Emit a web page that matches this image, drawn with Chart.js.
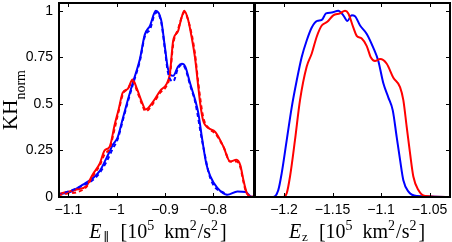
<!DOCTYPE html>
<html>
<head>
<meta charset="utf-8">
<script src="https://cdn.jsdelivr.net/npm/chart.js@4.4.1/dist/chart.umd.min.js"></script>
<style>
  body { margin: 0; background: #fff; }
  #wrap { position: relative; width: 452px; height: 242px; overflow: hidden; }
  canvas { position: absolute; top: 0; }
  #left { left: 0; }
  #right { left: 240px; }
</style>
</head>
<body>
<div id="wrap">
  <canvas id="left" width="256" height="242"></canvas>
  <canvas id="right" width="212" height="242"></canvas>
</div>
<script>
// --- DATA ---
// left panel: E_parallel
const leftRedX = [-1.121, -1.106, -1.083, -1.0625, -1.05, -1.035, -1.025, -1.0146, -1.004, -0.996, -0.9875, -0.977, -0.967, -0.958, -0.948, -0.94, -0.925, -0.91, -0.896, -0.89, -0.883, -0.873, -0.866, -0.86, -0.852, -0.845, -0.838, -0.831, -0.827, -0.821, -0.81, -0.796, -0.779, -0.765, -0.752, -0.744, -0.7375, -0.731, -0.725, -0.7146];
const leftRedY = [0.015, 0.025, 0.04, 0.06, 0.12, 0.18, 0.25, 0.27, 0.39, 0.47, 0.56, 0.58, 0.63, 0.58, 0.51, 0.47, 0.51, 0.57, 0.61, 0.66, 0.84, 0.89, 0.96, 1.0, 0.95, 0.86, 0.75, 0.59, 0.5, 0.41, 0.37, 0.35, 0.27, 0.19, 0.2, 0.17, 0.09, 0.025, 0.003, 0];
const leftRedDashX = [-1.121, -1.098, -1.083, -1.0625, -1.05, -1.035, -1.025, -1.0146, -1.004, -0.996, -0.9875, -0.977, -0.967, -0.958, -0.948, -0.94, -0.925, -0.91, -0.896, -0.89, -0.883, -0.873, -0.86, -0.848, -0.838, -0.831, -0.821, -0.81, -0.796, -0.779, -0.765, -0.752, -0.744, -0.7375, -0.731, -0.7146];
const leftRedDashY = [0.01, 0.02, 0.025, 0.055, 0.11, 0.17, 0.23, 0.26, 0.37, 0.46, 0.55, 0.58, 0.62, 0.57, 0.5, 0.46, 0.5, 0.56, 0.6, 0.65, 0.82, 0.9, 0.99, 0.91, 0.77, 0.61, 0.43, 0.37, 0.34, 0.27, 0.19, 0.19, 0.16, 0.08, 0.02, 0];
const leftBlueX = [-1.121, -1.098, -1.071, -1.05, -1.035, -1.021, -1.008, -0.998, -0.9875, -0.977, -0.967, -0.952, -0.942, -0.931, -0.919, -0.908, -0.9, -0.894, -0.883, -0.873, -0.865, -0.858, -0.848, -0.8375, -0.831, -0.823, -0.8146, -0.806, -0.792, -0.771, -0.75, -0.733, -0.723, -0.7146];
const leftBlueY = [0.015, 0.025, 0.065, 0.1, 0.14, 0.21, 0.28, 0.32, 0.42, 0.52, 0.61, 0.74, 0.87, 0.92, 1.0, 0.95, 0.8, 0.69, 0.65, 0.7, 0.715, 0.7, 0.61, 0.52, 0.45, 0.31, 0.18, 0.11, 0.05, 0.012, 0.03, 0.027, 0.003, 0];
const leftBlueDashX = [-1.121, -1.071, -1.05, -1.035, -1.021, -1.008, -0.998, -0.9875, -0.977, -0.967, -0.952, -0.942, -0.931, -0.919, -0.908, -0.9, -0.894, -0.883, -0.873, -0.865, -0.858, -0.848, -0.8375, -0.823, -0.806, -0.771];
const leftBlueDashY = [0.01, 0.06, 0.09, 0.13, 0.19, 0.26, 0.31, 0.41, 0.51, 0.6, 0.73, 0.86, 0.9, 0.99, 0.94, 0.79, 0.67, 0.62, 0.69, 0.71, 0.69, 0.6, 0.51, 0.3, 0.1, 0.01];

// right panel: E_z
const rightBlueX = [-1.2299, -1.211, -1.2059, -1.2024, -1.1972, -1.1921, -1.1869, -1.1818, -1.1766, -1.1714, -1.1657, -1.1611, -1.1567, -1.1508, -1.144, -1.1389, -1.1347, -1.1302, -1.1268, -1.1216, -1.1147, -1.1079, -1.1028, -1.0976, -1.0925, -1.0879, -1.0838, -1.0804, -1.077, -1.0719, -1.0632, -1.0289];
const rightBlueY = [0, 0, 0.037, 0.127, 0.305, 0.48, 0.625, 0.75, 0.84, 0.91, 0.945, 0.95, 0.985, 0.99, 1.0, 0.975, 0.945, 0.975, 0.97, 0.92, 0.875, 0.8, 0.73, 0.61, 0.535, 0.465, 0.32, 0.2, 0.09, 0.03, 0.005, 0];
const rightRedX = [-1.2299, -1.2007, -1.1972, -1.1938, -1.1887, -1.1835, -1.1766, -1.1714, -1.1663, -1.1611, -1.1554, -1.1492, -1.1423, -1.1371, -1.1337, -1.1286, -1.1251, -1.1199, -1.1147, -1.1106, -1.1062, -1.101, -1.0941, -1.0873, -1.0804, -1.077, -1.0735, -1.0701, -1.0667, -1.0615, -1.0546, -1.0289];
const rightRedY = [0, 0, 0.02, 0.11, 0.305, 0.52, 0.7, 0.77, 0.86, 0.92, 0.94, 0.975, 0.985, 1.0, 0.985, 0.91, 0.865, 0.85, 0.81, 0.75, 0.73, 0.74, 0.715, 0.64, 0.59, 0.52, 0.375, 0.235, 0.11, 0.037, 0.005, 0];

// ticks
const yTicks = [0, 0.25, 0.5, 0.75, 1];
const yLabels = ['0', '0.25', '0.5', '0.75', '1'];
const leftXTicks = [-1.1, -1, -0.9, -0.8];
const leftXLabels = ['\u22121.1', '\u22121', '\u22120.9', '\u22120.8'];
const rightXTicks = [-1.2, -1.15, -1.1, -1.05];
const rightXLabels = ['\u22121.2', '\u22121.15', '\u22121.1', '\u22121.05'];

// --- HELPERS ---
const tickFont = { family: '"Liberation Sans", Arial, sans-serif', size: 14 };
const serif = '"Liberation Serif", "Times New Roman", serif';

function pts(xs, ys) {
  return xs.map((x, i) => ({ x: x, y: ys[i] }));
}

function series(xs, ys, color, dashed) {
  return {
    data: pts(xs, ys),
    borderColor: color,
    borderWidth: 2,
    borderDash: dashed ? [4, 3] : [],
    pointRadius: 0,
    fill: false,
    cubicInterpolationMode: 'monotone'
  };
}

// draw a run of text pieces (sub/superscripts) centred on cx
function drawRich(ctx, parts, cx, baseline) {
  let total = 0;
  parts.forEach(p => {
    ctx.font = p.font;
    p.w = ctx.measureText(p.text).width;
    total += (p.gap || 0) + p.w;
  });
  let x = cx - total / 2;
  ctx.textAlign = 'left';
  ctx.textBaseline = 'alphabetic';
  ctx.fillStyle = '#000';
  parts.forEach(p => {
    x += p.gap || 0;
    ctx.font = p.font;
    ctx.fillText(p.text, x, baseline + (p.dy || 0));
    x += p.w;
  });
}

function unitParts(sym) {
  return [
    { text: 'E', font: 'italic 20px ' + serif },
    { text: sym, font: '13px ' + serif, dy: 3, gap: 1 },
    { text: '[10', font: '20px ' + serif, gap: 11 },
    { text: '5', font: '14px ' + serif, dy: -8 },
    { text: 'km', font: '20px ' + serif, gap: 10 },
    { text: '2', font: '14px ' + serif, dy: -8 },
    { text: '/s', font: '20px ' + serif, gap: 1 },
    { text: '2', font: '14px ' + serif, dy: -8 },
    { text: ']', font: '20px ' + serif, gap: 2 }
  ];
}

// inward ticks on all four sides plus the black box
function framePlugin(xTicks) {
  return {
    id: 'frame',
    afterDatasetsDraw(chart) {
      const { ctx, chartArea: a, scales } = chart;
      ctx.save();
      ctx.strokeStyle = '#000';
      ctx.lineWidth = 1;
      ctx.beginPath();
      xTicks.forEach(v => {
        const px = Math.round(scales.x.getPixelForValue(v)) + 0.5;
        ctx.moveTo(px, a.bottom); ctx.lineTo(px, a.bottom - 4);
        ctx.moveTo(px, a.top); ctx.lineTo(px, a.top + 4);
      });
      yTicks.forEach(v => {
        const py = Math.round(scales.y.getPixelForValue(v)) + 0.5;
        ctx.moveTo(a.left, py); ctx.lineTo(a.left + 4, py);
        ctx.moveTo(a.right, py); ctx.lineTo(a.right - 4, py);
      });
      ctx.stroke();
      ctx.lineWidth = 2;
      ctx.strokeRect(a.left, a.top, a.right - a.left, a.bottom - a.top);
      ctx.restore();
    }
  };
}

function makeOptions(xMin, xMax, xTicks, xLabels, showY, padLeft) {
  return {
    responsive: false,
    animation: false,
    devicePixelRatio: 1,
    layout: { padding: { left: padLeft, right: 2, top: 3, bottom: 0 } },
    plugins: { legend: { display: false }, tooltip: { enabled: false } },
    scales: {
      x: {
        type: 'linear',
        min: xMin,
        max: xMax,
        grid: { display: false, drawTicks: false },
        border: { display: false },
        afterBuildTicks: s => { s.ticks = xTicks.map(v => ({ value: v })); },
        afterFit: s => { s.height = 45; s.paddingLeft = 0; s.paddingRight = 0; },
        ticks: {
          callback: (v, i) => xLabels[i],
          font: tickFont,
          color: '#000',
          padding: 5,
          maxRotation: 0,
          autoSkip: false
        }
      },
      y: {
        display: showY,
        min: 0,
        max: 1.041,
        grid: { display: false, drawTicks: false },
        border: { display: false },
        afterBuildTicks: s => { s.ticks = yTicks.map(v => ({ value: v })); },
        afterFit: s => {
          s.width = showY ? 59 : 0;
          s.paddingTop = 0;
          s.paddingBottom = 0;
        },
        ticks: {
          callback: (v, i) => yLabels[i],
          font: tickFont,
          color: '#000',
          padding: 6,
          autoSkip: false
        }
      }
    }
  };
}

// --- CHARTS ---
new Chart(document.getElementById('left'), {
  type: 'line',
  data: {
    datasets: [
      series(leftRedDashX, leftRedDashY, '#ff0000', true),
      series(leftBlueDashX, leftBlueDashY, '#0000ff', true),
      series(leftRedX, leftRedY, '#ff0000', false),
      series(leftBlueX, leftBlueY, '#0000ff', false)
    ]
  },
  options: makeOptions(-1.1195, -0.7157, leftXTicks, leftXLabels, true, 0),
  plugins: [framePlugin(leftXTicks), {
    id: 'titles',
    afterDraw(chart) {
      const ctx = chart.ctx;
      ctx.save();
      drawRich(ctx, unitParts('\u2225'), 158, 238);
      ctx.translate(17, 100);
      ctx.rotate(-Math.PI / 2);
      drawRich(ctx, [
        { text: 'KH', font: '21px ' + serif },
        { text: 'norm', font: '14px ' + serif, dy: 8 }
      ], 0, 0);
      ctx.restore();
    }
  }]
});

new Chart(document.getElementById('right'), {
  type: 'line',
  data: {
    datasets: [
      series(rightRedX, rightRedY, '#ff0000', false),
      series(rightBlueX, rightBlueY, '#0000ff', false)
    ]
  },
  options: makeOptions(-1.2299, -1.0289, rightXTicks, rightXLabels, false, 15),
  plugins: [framePlugin(rightXTicks), {
    id: 'titles',
    afterDraw(chart) {
      const ctx = chart.ctx;
      ctx.save();
      drawRich(ctx, unitParts('z'), 357 - 240, 238);
      ctx.restore();
    }
  }]
});
</script>
</body>
</html>
